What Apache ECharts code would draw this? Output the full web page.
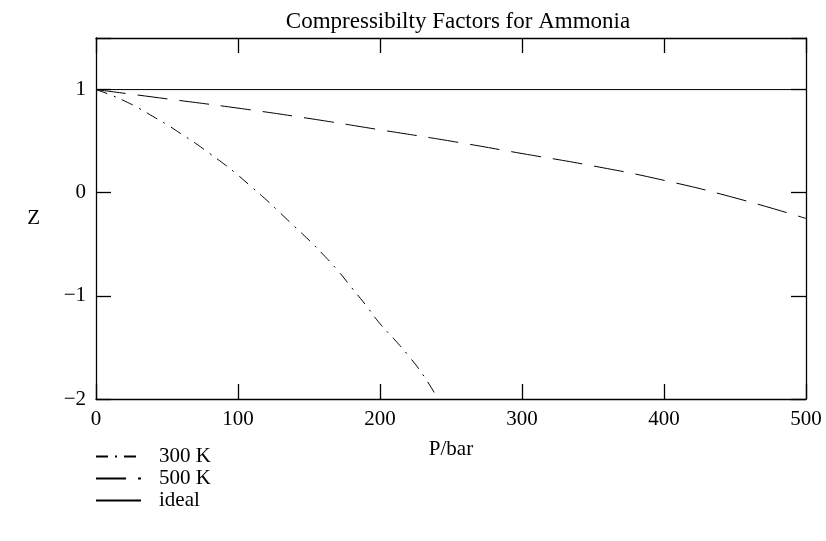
<!DOCTYPE html>
<html>
<head>
<meta charset="utf-8">
<script src="https://cdn.jsdelivr.net/npm/echarts@6/dist/echarts.min.js"></script>
<style>html,body{margin:0;padding:0;background:#fff;}#c{width:826px;height:541px;}</style>
</head>
<body>
<div id="c"></div>
<script>
var title = 'Compressibilty Factors for Ammonia';
var xTicks = [0, 100, 200, 300, 400, 500];
var yTicks = [-2, -1, 0, 1];
var p300 = [0, 10, 20, 30, 40, 50, 60, 70, 80, 90, 100, 110, 120, 130, 140, 150, 160, 170, 180, 190, 200, 210, 220, 230, 240];
var z300 = [1, 0.95, 0.89, 0.82, 0.74, 0.66, 0.57, 0.48, 0.38, 0.28, 0.17, 0.05, -0.07, -0.2, -0.33, -0.46, -0.6, -0.75, -0.92, -1.09, -1.27, -1.42, -1.58, -1.76, -1.98];
var p500 = [0, 50, 100, 150, 200, 250, 300, 350, 400, 450, 500];
var z500 = [1, 0.91, 0.82, 0.72, 0.61, 0.5, 0.38, 0.26, 0.12, -0.05, -0.25];
var pIdeal = [0, 500];
var zIdeal = [1, 1];

function pairs(xs, ys) { return xs.map(function (x, i) { return [x, ys[i]]; }); }

var font = 'Liberation Serif';
var chart = echarts.init(document.getElementById('c'), null, {renderer: 'canvas'});
var axisCommon = {
  axisLine: {show: true, onZero: false, lineStyle: {color: '#000', width: 1.3}},
  axisTick: {show: true, inside: true, length: 15, lineStyle: {color: '#000', width: 1.3}},
  splitLine: {show: false}
};
chart.setOption({
  animation: false,
  backgroundColor: '#fff',
  title: {text: title, left: 453, top: 5, textAlign: 'center',
    textStyle: {fontFamily: font, fontSize: 23, fontWeight: 'normal', color: '#000'}},
  grid: {left: 96, right: 20, top: 38, bottom: 142},
  legend: {
    show: true, orient: 'vertical', left: 95, top: 446, padding: 0, itemWidth: 45, itemHeight: 14, itemGap: 1,
    itemStyle: {opacity: 0, borderWidth: 0},
    textStyle: {fontFamily: font, fontSize: 21, color: '#000', padding: [0, 0, 0, 13]},
    data: ['300 K', '500 K', 'ideal']
  },
  xAxis: [
    Object.assign({type: 'value', min: 0, max: 500, interval: 100, position: 'bottom',
      name: 'P/bar', nameLocation: 'middle', nameGap: 40,
      nameTextStyle: {fontFamily: font, fontSize: 21, color: '#000'},
      axisLabel: {fontFamily: font, fontSize: 21, color: '#000', margin: 10,
        formatter: function (v) { return xTicks.indexOf(v) >= 0 ? String(v) : ''; }}}, axisCommon),
    Object.assign({type: 'value', min: 0, max: 500, interval: 100, position: 'top',
      axisLabel: {show: false}}, axisCommon)
  ],
  yAxis: [
    Object.assign({type: 'value', min: -2, max: 1.5, interval: 1, position: 'left',
      name: 'Z', nameLocation: 'middle', nameGap: 56, nameRotate: 0,
      nameTextStyle: {fontFamily: font, fontSize: 21, color: '#000'},
      axisLabel: {fontFamily: font, fontSize: 21, color: '#000', margin: 10,
        formatter: function (v) { return yTicks.indexOf(v) >= 0 ? String(v).replace('-', '\u2212') : ''; }}}, axisCommon),
    Object.assign({type: 'value', min: -2, max: 1.5, interval: 1, position: 'right',
      axisLabel: {show: false}}, axisCommon)
  ],
  series: [
    {name: '300 K', type: 'line', data: pairs(p300, z300), symbol: 'none', smooth: true,
      lineStyle: {color: '#000', width: 1, type: [12, 7, 2, 7]}, itemStyle: {color: '#000'}},
    {name: '500 K', type: 'line', data: pairs(p500, z500), symbol: 'none', smooth: true,
      lineStyle: {color: '#000', width: 1, type: [30, 12]}, itemStyle: {color: '#000'}},
    {name: 'ideal', type: 'line', data: pairs(pIdeal, zIdeal), symbol: 'none',
      lineStyle: {color: '#000', width: 1, type: 'solid'}, itemStyle: {color: '#000'}}
  ]
});
</script>
</body>
</html>
